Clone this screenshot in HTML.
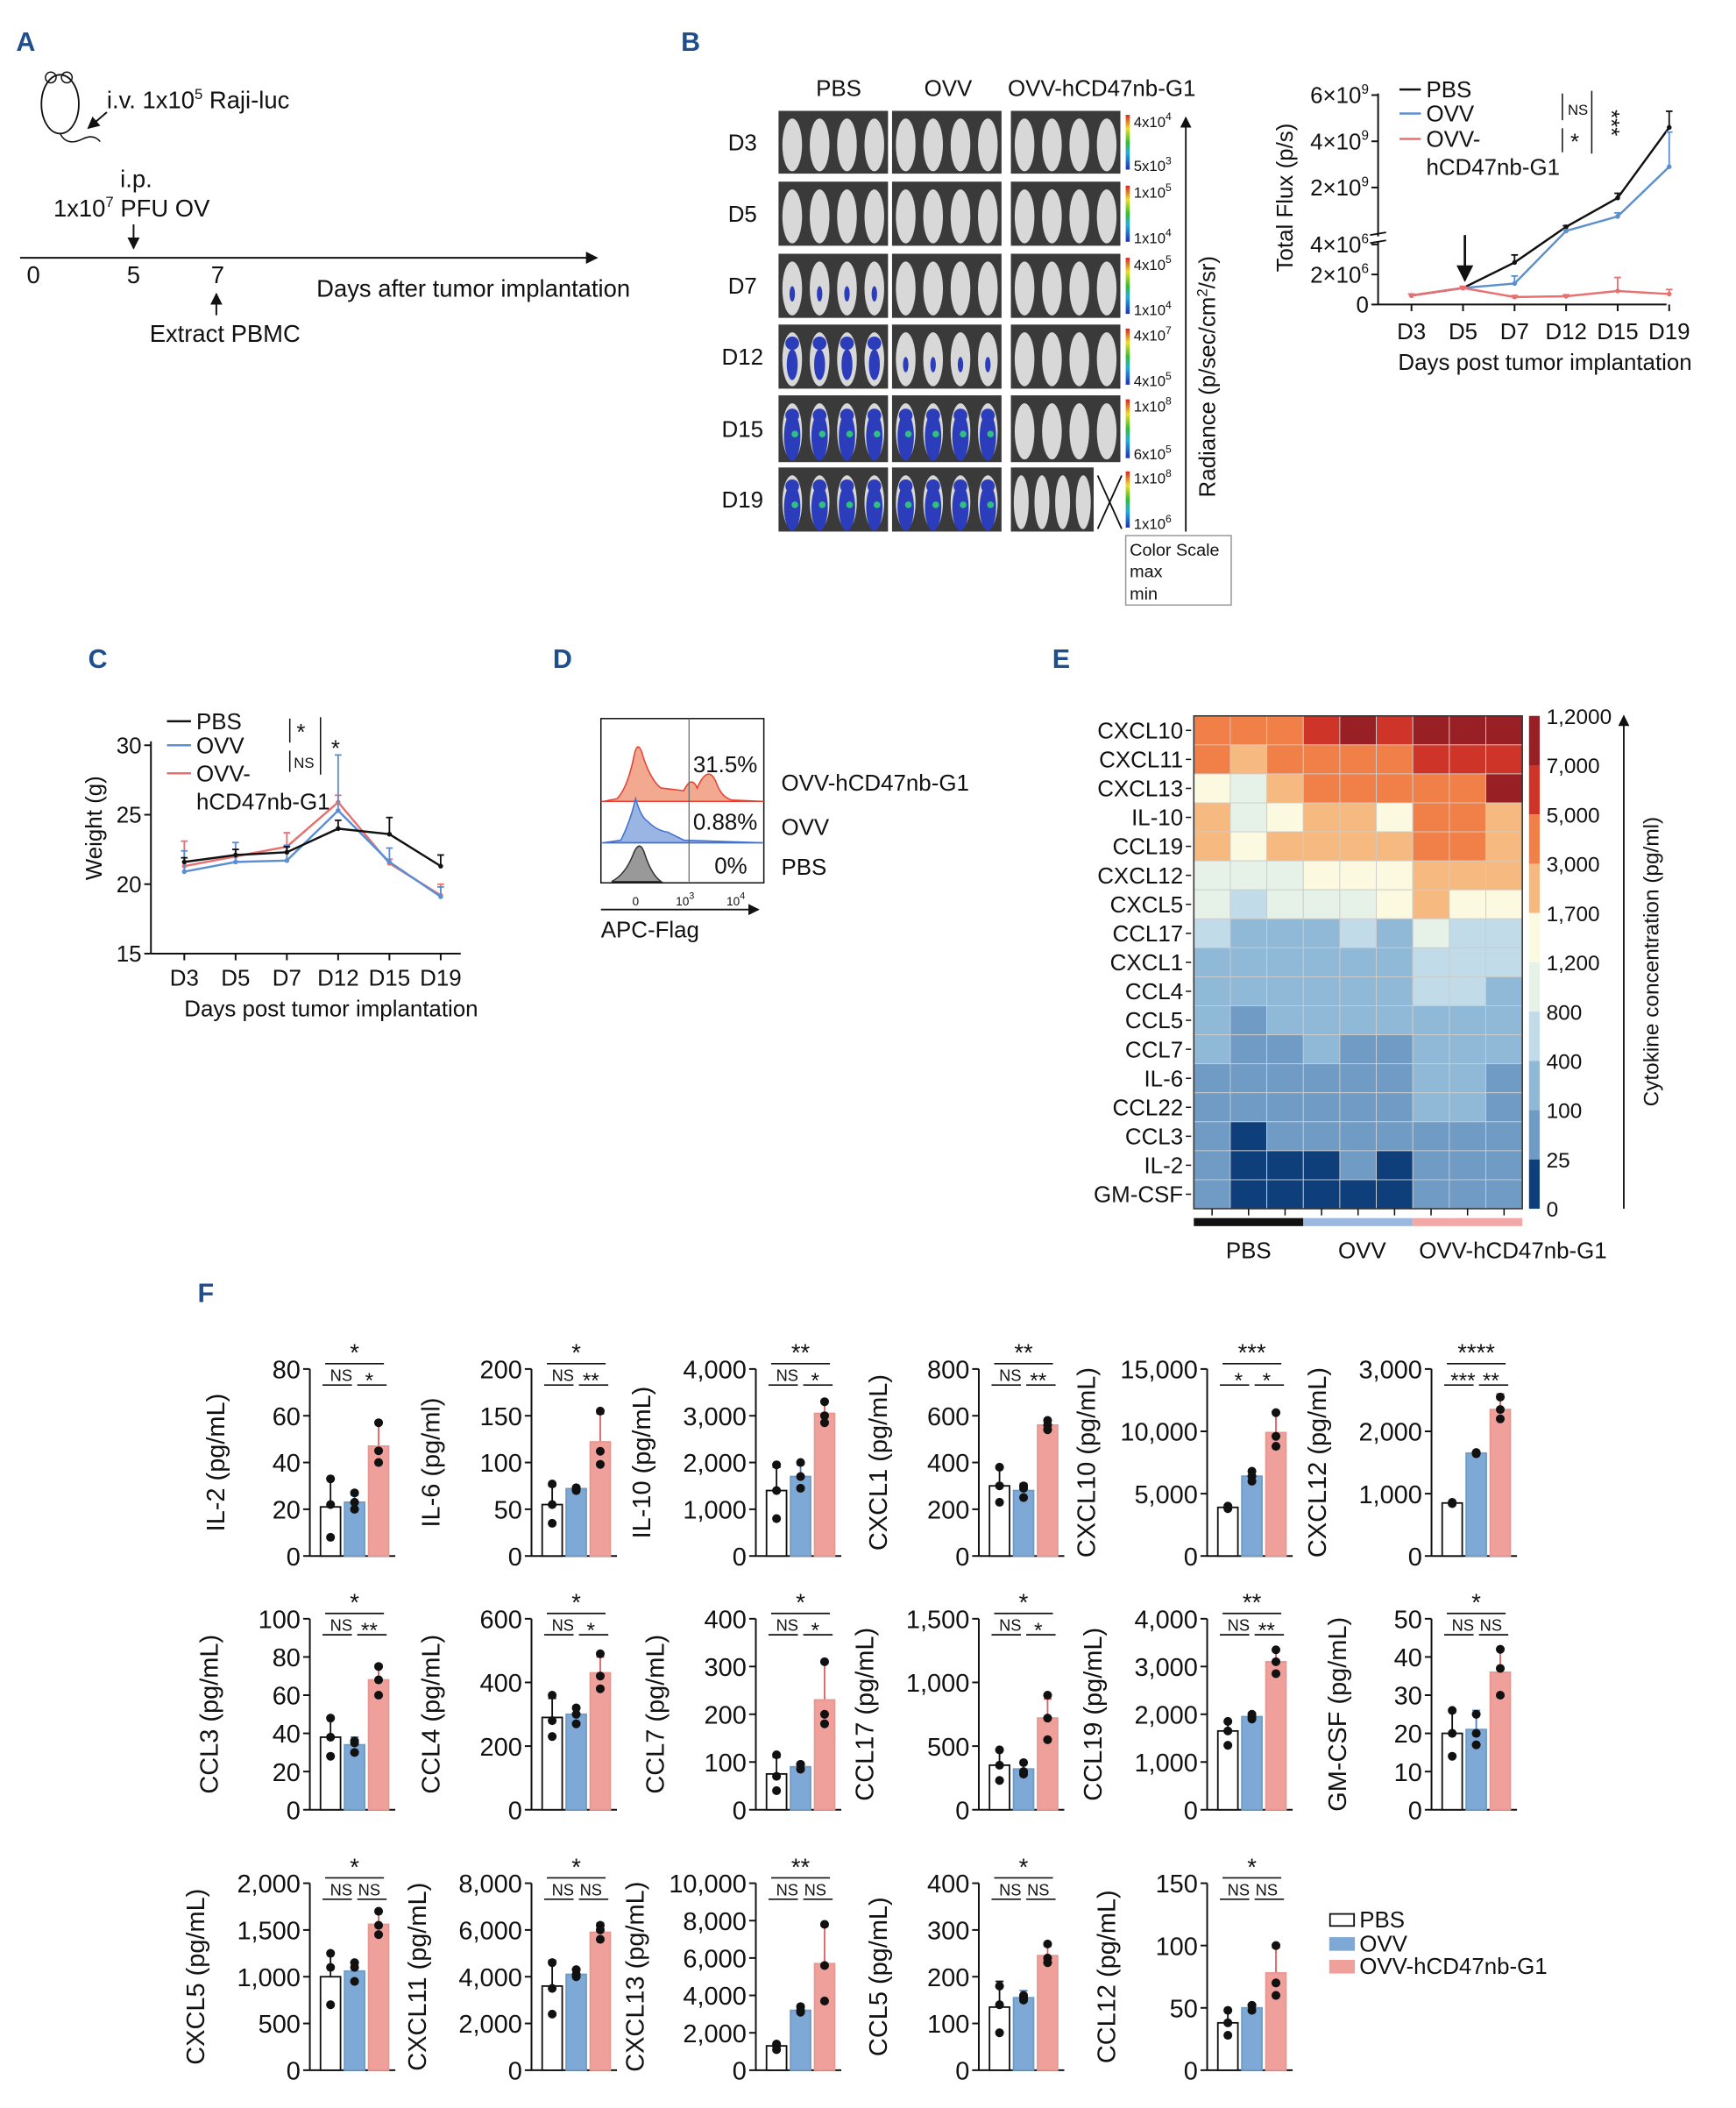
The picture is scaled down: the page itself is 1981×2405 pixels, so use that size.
<!DOCTYPE html>
<html><head><meta charset="utf-8"><style>
html,body{margin:0;padding:0;background:#fff}
svg{display:block}
text{font-family:"Liberation Sans",sans-serif;fill:#111}
</style></head><body>
<svg id="fig" width="1981" height="2405" viewBox="0 0 1300 1578.3" xmlns="http://www.w3.org/2000/svg">
<defs>
<linearGradient id="rainbow" x1="0" y1="1" x2="0" y2="0">
<stop offset="0" stop-color="#2030c0"/><stop offset="0.3" stop-color="#20b0e0"/><stop offset="0.5" stop-color="#30c030"/><stop offset="0.75" stop-color="#f0e020"/><stop offset="1" stop-color="#e02020"/></linearGradient>
<marker id="ah" viewBox="0 0 10 10" refX="9" refY="5" markerWidth="7" markerHeight="7" orient="auto"><path d="M0,0 L10,5 L0,10 z" fill="#111"/></marker>
</defs>
<g id="root"></g>
</svg>
<script>
const NS='http://www.w3.org/2000/svg';
const root=document.getElementById('root');
function mk(tag,attrs,parent){const e=document.createElementNS(NS,tag);for(const k in attrs)e.setAttribute(k,attrs[k]);(parent||root).appendChild(e);return e;}
function txt(x,y,s,size,parent,anchor,extra){const t=mk('text',Object.assign({x:x,y:y,'font-size':size,'text-anchor':anchor||'start'},extra||{}),parent);t.innerHTML=s;return t;}
function line(x1,y1,x2,y2,parent,w,c){return mk('line',{x1:x1,y1:y1,x2:x2,y2:y2,stroke:c||'#111','stroke-width':w||1.3},parent);}

/* ---------- panel labels ---------- */
const panelLabels=[['A',12,38],['B',510,38],['C',66,500],['D',414,500],['E',788,500],['F',148,975]];
panelLabels.forEach(p=>{const t=txt(p[1],p[2],p[0],20,root,'start',{'font-weight':'bold'});t.setAttribute('style','fill:#1f4e8c');

});

/* ---------- Panel A ---------- */
const gA=mk('g',{});


mk('ellipse',{cx:45,cy:78,rx:14,ry:22,fill:'none',stroke:'#111','stroke-width':1.2},gA);
mk('circle',{cx:38,cy:58,r:4,fill:'none',stroke:'#111'},gA);mk('circle',{cx:50,cy:58,r:4,fill:'none',stroke:'#111'},gA);
mk('path',{d:'M45,100 Q50,110 62,104 Q70,100 75,106',fill:'none',stroke:'#111'},gA);
txt(80,81,'i.v. 1x10<tspan dy="-7" font-size="11">5</tspan><tspan dy="7"> Raji-luc</tspan>',18,gA);
line(80,84,66,96,gA,1.3).setAttribute('marker-end','url(#ah)');
txt(90,140,'i.p.',18,gA);
txt(40,162,'1x10<tspan dy="-7" font-size="11">7</tspan><tspan dy="7"> PFU OV</tspan>',18,gA);
line(100,168,100,186,gA,1.3).setAttribute('marker-end','url(#ah)');
line(15,193,447,193,gA,1.3).setAttribute('marker-end','url(#ah)');
txt(25,212,'0',18,gA,'middle');txt(100,212,'5',18,gA,'middle');txt(163,212,'7',18,gA,'middle');
txt(237,222,'Days after tumor implantation',18,gA);
line(162,236,162,220,gA,1.3).setAttribute('marker-end','url(#ah)');
txt(112,256,'Extract PBMC',18,gA);

/* ---------- Panel B imaging ---------- */
const gB=mk('g',{});


const imgCols=[583,668,757];
const imgRows=[[83,130],[136,184],[190,238],[243,291],[296,346],[350,398]];
const dayLabels=['D3','D5','D7','D12','D15','D19'];
const burden=[[0,0,0],[0,0,0],[1,0,0],[2,1,0],[3,3,0],[3,3,0]];
const scaleTop=['4x10<tspan dy="-5" font-size="8">4</tspan>','1x10<tspan dy="-5" font-size="8">5</tspan>','4x10<tspan dy="-5" font-size="8">5</tspan>','4x10<tspan dy="-5" font-size="8">7</tspan>','1x10<tspan dy="-5" font-size="8">8</tspan>','1x10<tspan dy="-5" font-size="8">8</tspan>'];
const scaleBot=['5x10<tspan dy="-5" font-size="8">3</tspan>','1x10<tspan dy="-5" font-size="8">4</tspan>','1x10<tspan dy="-5" font-size="8">4</tspan>','4x10<tspan dy="-5" font-size="8">5</tspan>','6x10<tspan dy="-5" font-size="8">5</tspan>','1x10<tspan dy="-5" font-size="8">6</tspan>'];
txt(628,72,'PBS',17,gB,'middle');txt(710,72,'OVV',17,gB,'middle');txt(825,72,'OVV-hCD47nb-G1',17,gB,'middle');
imgRows.forEach((r,ri)=>{
 txt(556,(r[0]+r[1])/2+6,dayLabels[ri],17,gB,'middle');
 imgCols.forEach((cx,ci)=>{
  const w=(ci==2&&ri==5)?62:82;
  const cell=mk('g',{},gB);
  
  
  mk('rect',{x:cx,y:r[0],width:w,height:r[1]-r[0],fill:'#3a3a3a'},cell);
  const n=4;
  for(let m=0;m<n;m++){
   const mx=cx+w*(m+0.5)/n, my=(r[0]+r[1])/2;
   mk('ellipse',{cx:mx,cy:my+2,rx:w/n*0.36,ry:(r[1]-r[0])*0.42,fill:'#d8d8d8'},cell);
   const b=burden[ri][ci];
   if(b>0){
    mk('ellipse',{cx:mx,cy:my+6,rx:w/n*0.3*(b/3),ry:(r[1]-r[0])*0.12*b,fill:'#2b3dbb'},cell);
    if(b>=2) mk('ellipse',{cx:mx,cy:my-10,rx:w/n*0.25,ry:5,fill:'#2b3dbb'},cell);
    if(b>=3) mk('circle',{cx:mx+2,cy:my+4,r:2.5,fill:'#30c080'},cell);
   }
  }
 });
 mk('rect',{x:843,y:r[0]+3,width:3,height:r[1]-r[0]-6,fill:'url(#rainbow)'},gB);
 txt(849,r[0]+12,scaleTop[ri],11,gB);
 txt(849,r[1]-2,scaleBot[ri],11,gB);
});
line(822,356,840,396,gB,1.2);line(840,356,822,396,gB,1.2);
line(888,398,888,88,gB,1.2).setAttribute('marker-end','url(#ah)');
txt(0,0,'Radiance (p/sec/cm<tspan dy="-6" font-size="11">2</tspan><tspan dy="6">/sr)</tspan>',17,gB,'middle',{transform:'translate(910,282) rotate(-90)'});
mk('rect',{x:843,y:401,width:79,height:52,fill:'none',stroke:'#999','stroke-width':1},gB);
txt(846,416,'Color Scale',13,gB);txt(846,432,'max',13,gB);txt(846,449,'min',13,gB);

/* ---------- Panel B total flux chart ---------- */
const fluxDays=['D3','D5','D7','D12','D15','D19'];
const fluxPBS=[0.6e6,1.1e6,2.8e6,0.3e9,1.55e9,4.6e9];
const fluxOVV=[0.6e6,1.1e6,1.4e6,0.12e9,0.75e9,2.9e9];
const fluxCD47=[0.6e6,1.1e6,0.5e6,0.55e6,0.9e6,0.7e6];
const fluxErrPBS=[0.1e6,0.1e6,0.5e6,0.05e9,0.2e9,0.7e9];
const fluxErrOVV=[0.1e6,0.1e6,0.5e6,0.05e9,0.15e9,1.5e9];
const fluxErrCD47=[0.1e6,0.1e6,0.1e6,0.1e6,0.9e6,0.3e6];
const fluxTicks=[[6e9,'6×10<tspan dy="-7" font-size="10">9</tspan>'],[4e9,'4×10<tspan dy="-7" font-size="10">9</tspan>'],[2e9,'2×10<tspan dy="-7" font-size="10">9</tspan>'],[4e6,'4×10<tspan dy="-7" font-size="10">6</tspan>'],[2e6,'2×10<tspan dy="-7" font-size="10">6</tspan>'],[0,'0']];
const gF=mk('g',{});


function fx(i){return 1057+i*38.6;}
function fy(v){return v<=4e6?228-45*v/4e6:175-17.3*v/1e9;}
line(1032,70,1032,177,gF);line(1032,181,1032,228,gF);
line(1026,176,1038,174,gF,1.2);line(1026,182,1038,180,gF,1.2);
line(1032,228,1248,228,gF);
fluxTicks.forEach(t=>{const y=fy(t[0]);line(1027,y,1032,y,gF);txt(1025,y+6,t[1],17,gF,'end');});
fluxDays.forEach((d,i)=>{line(fx(i),228,fx(i),233,gF);txt(fx(i),254,d,17,gF,'middle');});
txt(1157,277,'Days post tumor implantation',17,gF,'middle');
txt(0,0,'Total Flux (p/s)',17,gF,'middle',{transform:'translate(968,148) rotate(-90)'});
function series(vals,errs,col,name,g){
 const s=mk('g',{},g);
 
 
 mk('polyline',{points:vals.map((v,i)=>fx(i)+','+fy(v)).join(' '),fill:'none',stroke:col,'stroke-width':1.6},s);
 vals.forEach((v,i)=>{const y1=fy(v),y2=fy(v+errs[i]);line(fx(i),y1,fx(i),y2,s,1.2,col);line(fx(i)-2.5,y2,fx(i)+2.5,y2,s,1.2,col);mk('circle',{cx:fx(i),cy:y1,r:1.8,fill:col},s);});
}
series(fluxPBS,fluxErrPBS,'#111','flux-series-pbs',gF);
series(fluxOVV,fluxErrOVV,'#5b8fd0','flux-series-ovv',gF);
series(fluxCD47,fluxErrCD47,'#e87070','flux-series-ovv-hcd47nb-g1',gF);
line(1097,176,1097,210,gF,1.8).setAttribute('marker-end','url(#ah)');
const legB=[['#111','PBS',72],['#5b8fd0','OVV',90],['#e87070','OVV-',109]];
legB.forEach(l=>{line(1048,l[2]-5,1064,l[2]-5,gF,1.6,l[0]);txt(1068,l[2]+1,l[1],17,gF);});
txt(1068,131,'hCD47nb-G1',17,gF);
line(1170,70,1170,90,gF,1);txt(1174,86,'NS',11,gF);
line(1170,96,1170,114,gF,1);txt(1176,112,'*',17,gF);
line(1192,68,1192,115,gF,1);txt(0,0,'***',17,gF,'middle',{transform:'translate(1201,92) rotate(90)'});

/* ---------- Panel C weight ---------- */
const wDays=['D3','D5','D7','D12','D15','D19'];
const wPBS=[21.6,22.1,22.3,24.0,23.6,21.3];
const wOVV=[20.9,21.6,21.7,25.3,21.6,19.1];
const wCD47=[21.3,22.0,22.7,25.9,21.5,19.2];
const wErrPBS=[0.3,0.4,0.4,0.6,1.2,0.8];
const wErrOVV=[1.5,1.4,1.1,4.0,1.0,0.7];
const wErrCD47=[1.8,0.5,1.0,0.5,0.3,0.8];
const wTicks=[15,20,25,30];
const gC=mk('g',{});


function cx_(i){return 138+i*38.4;}
function cy_(v){return 714-(v-15)*10.4;}
line(113,555,113,714,gC);line(113,714,345,714,gC);
wTicks.forEach(t=>{line(108,cy_(t),113,cy_(t),gC);txt(106,cy_(t)+6,String(t),17,gC,'end');});
wDays.forEach((d,i)=>{line(cx_(i),714,cx_(i),719,gC);txt(cx_(i),738,d,17,gC,'middle');});
txt(248,761,'Days post tumor implantation',17,gC,'middle');
txt(0,0,'Weight (g)',17,gC,'middle',{transform:'translate(76,620) rotate(-90)'});
function wseries(vals,errs,col,name){
 const s=mk('g',{},gC);
 
 
 mk('polyline',{points:vals.map((v,i)=>cx_(i)+','+cy_(v)).join(' '),fill:'none',stroke:col,'stroke-width':1.6},s);
 vals.forEach((v,i)=>{const y2=cy_(v+errs[i]);line(cx_(i),cy_(v),cx_(i),y2,s,1.2,col);line(cx_(i)-2.5,y2,cx_(i)+2.5,y2,s,1.2,col);mk('circle',{cx:cx_(i),cy:cy_(v),r:1.8,fill:col},s);});
}
wseries(wCD47,wErrCD47,'#e87070','weight-series-ovv-hcd47nb-g1');
wseries(wOVV,wErrOVV,'#5b8fd0','weight-series-ovv');
wseries(wPBS,wErrPBS,'#111','weight-series-pbs');
const legC=[['#111','PBS',545],['#5b8fd0','OVV',563],['#e87070','OVV-',584]];
legC.forEach(l=>{line(125,l[2]-5,143,l[2]-5,gC,1.6,l[0]);txt(147,l[2]+1,l[1],17,gC);});
txt(147,606,'hCD47nb-G1',17,gC);
line(217,538,217,556,gC,1);txt(222,554,'*',17,gC);
line(217,562,217,578,gC,1);txt(220,575,'NS',11,gC);
line(240,537,240,580,gC,1);txt(248,566,'*',17,gC);

/* ---------- Panel D flow ---------- */
const gD=mk('g',{});


mk('rect',{x:450,y:538,width:122,height:123,fill:'none',stroke:'#111','stroke-width':1},gD);
mk('path',{d:'M452,600 L462,598 Q470,590 475,565 Q478,552 482,568 Q488,585 495,590 L512,592 Q518,580 522,590 Q530,572 536,585 Q540,597 548,599 L571,600 Z',fill:'#f3a890',stroke:'#e84030','stroke-width':1},gD);
line(450,600,572,600,gD,1,'#e84030');
mk('path',{d:'M452,631 L465,629 Q472,615 476,598 Q480,612 485,615 Q492,622 500,623 Q506,626 512,629 L571,631 Z',fill:'#9ab4e4',stroke:'#4070d0','stroke-width':1},gD);
line(450,631,572,631,gD,1,'#4070d0');
mk('path',{d:'M458,660 Q468,655 474,640 Q479,627 483,640 Q488,655 495,660 Z',fill:'#999',stroke:'#333','stroke-width':1},gD);
line(516,538,516,660,gD,0.8,'#666');
txt(519,578,'31.5%',17,gD);txt(519,621,'0.88%',17,gD);txt(535,654,'0%',17,gD);
txt(585,592,'OVV-hCD47nb-G1',17,gD);txt(585,625,'OVV',17,gD);txt(585,655,'PBS',17,gD);
line(450,681,568,681,gD,1.2).setAttribute('marker-end','url(#ah)');
txt(476,678,'0',9,gD,'middle');txt(513,678,'10<tspan dy="-5" font-size="7">3</tspan>',9,gD,'middle');txt(551,678,'10<tspan dy="-5" font-size="7">4</tspan>',9,gD,'middle');
txt(450,702,'APC-Flag',17,gD);

/* ---------- Panel E heatmap ---------- */
const hmRows=['CXCL10','CXCL11','CXCL13','IL-10','CCL19','CXCL12','CXCL5','CCL17','CXCL1','CCL4','CCL5','CCL7','IL-6','CCL22','CCL3','IL-2','GM-CSF'];
const hmLevels=[
[7,7,7,8,9,8,9,9,9],[7,6,7,7,7,7,8,8,8],[5,4,6,7,7,7,7,7,9],[6,4,5,6,6,5,7,7,6],[6,5,6,6,6,6,7,7,6],
[4,4,4,5,5,5,6,6,6],[4,3,4,4,4,5,6,5,5],[3,2,2,2,3,2,4,3,3],[2,2,2,2,2,2,3,3,3],[2,2,2,2,2,2,3,3,2],
[2,1,2,2,2,2,2,2,2],[2,1,1,2,1,1,2,2,2],[1,1,1,1,1,1,2,2,1],[1,1,1,1,1,1,2,2,1],[1,0,1,1,1,1,1,1,1],
[1,0,0,0,1,0,1,1,1],[1,0,0,0,0,0,1,1,1]];
const hmColors=['#0e3f7b','#6f9bc5','#8fb9d6','#c2dbe8','#e6f1e7','#fbfae0','#f6b980','#f07f48','#cf3428','#981f24'];
const cbLabels=['1,2000','7,000','5,000','3,000','1,700','1,200','800','400','100','25','0'];
const gE=mk('g',{});


const hx0=894,hx1=1140,hy0=536,hy1=905;
const cw=(hx1-hx0)/9,rh=(hy1-hy0)/hmRows.length;
hmLevels.forEach((row,ri)=>{
 row.forEach((lv,ci)=>{const c=mk('rect',{x:hx0+ci*cw,y:hy0+ri*rh,width:cw,height:rh,fill:hmColors[lv],stroke:'#ccc','stroke-width':0.6},gE);
 
 });
 line(hx0-6,hy0+(ri+0.5)*rh,hx0-2,hy0+(ri+0.5)*rh,gE,1);
 txt(hx0-8,hy0+(ri+0.5)*rh+6,hmRows[ri],17,gE,'end');
});
mk('rect',{x:hx0,y:hy0,width:hx1-hx0,height:hy1-hy0,fill:'none',stroke:'#333','stroke-width':1},gE);
for(let i=0;i<9;i++)line(hx0+(i+0.5)*cw,hy1,hx0+(i+0.5)*cw,hy1+5,gE,1);
mk('rect',{x:hx0,y:912,width:cw*3,height:6,fill:'#111'},gE);
mk('rect',{x:hx0+cw*3,y:912,width:cw*3,height:6,fill:'#9ab8e0'},gE);
mk('rect',{x:hx0+cw*6,y:912,width:cw*3,height:6,fill:'#f3a8a8'},gE);
txt(935,942,'PBS',17,gE,'middle');txt(1020,942,'OVV',17,gE,'middle');txt(1133,942,'OVV-hCD47nb-G1',17,gE,'middle');
const segH=(hy1-hy0)/10;
for(let i=0;i<10;i++){mk('rect',{x:1145,y:hy0+i*segH,width:8,height:segH,fill:hmColors[9-i]},gE);}
cbLabels.forEach((l,i)=>txt(1158,hy0+i*segH+6,l,16,gE));
line(1216,hy1,1216,hy0,gE,1.2).setAttribute('marker-end','url(#ah)');
txt(0,0,'Cytokine concentration (pg/ml)',16,gE,'middle',{transform:'translate(1242,720) rotate(-90)'});

/* ---------- Panel F bar charts ---------- */
const fNames=['IL-2','IL-6','IL-10','CXCL1','CXCL10','CXCL12','CCL3','CCL4','CCL7','CCL17','CCL19','GM-CSF','CXCL5','CXCL11','CXCL13','CCL5','CCL12'];
const fUnits=['pg/mL','pg/ml','pg/mL','pg/mL','pg/mL','pg/mL','pg/mL','pg/mL','pg/mL','pg/mL','pg/mL','pg/mL','pg/mL','pg/mL','pg/mL','pg/mL','pg/mL'];
const fMax=[80,200,4000,800,15000,3000,100,600,400,1500,4000,50,2000,8000,10000,400,150];
const fStep=[20,50,1000,200,5000,1000,20,200,100,500,1000,10,500,2000,2000,100,50];
const fMeanPBS=[21,55,1400,300,3900,850,38,290,75,350,1650,20,1000,3600,1300,135,38];
const fMeanOVV=[23,72,1700,280,6400,1650,34,300,90,320,1950,21,1060,4100,3200,155,50];
const fMeanCD47=[47,122,3050,560,9900,2350,68,430,230,720,3100,36,1560,5900,5700,245,78];
const fSdPBS=[12,20,500,80,150,20,10,60,35,120,200,6,250,1100,150,55,10];
const fSdOVV=[3,2,250,30,400,20,4,25,8,40,60,5,100,250,150,15,3];
const fSdCD47=[10,30,250,20,1500,250,8,50,80,150,250,6,150,400,2000,20,20];
const fPtsPBS=[[33,22,8],[77,55,35],[1950,1400,800],[380,300,230],[4000,3900,3800],[850,840,860],[48,38,28],[360,280,230],[115,70,40],[470,350,230],[1850,1650,1350],[26,20,14],[1250,1100,700],[4600,3500,2400],[1400,1300,1100],[180,140,80],[48,38,28]];
const fPtsOVV=[[27,23,20],[70,72,73],[2000,1700,1450],[300,290,250],[6800,6400,6000],[1650,1640,1660],[36,35,30],[320,300,270],[95,95,85],[370,300,280],[2000,1950,1900],[25,20,17],[1150,1100,950],[4300,4100,4000],[3400,3200,3100],[160,155,150],[52,52,48]];
const fPtsCD47=[[57,45,40],[155,112,98],[3300,3000,2850],[580,560,540],[11500,9600,8800],[2550,2350,2200],[75,68,60],[490,420,380],[310,200,180],[900,720,550],[3350,3100,2850],[42,37,30],[1700,1550,1450],[6200,6000,5600],[7800,5600,3700],[270,240,230],[100,70,60]];
const fSigTop=['*','*','**','**','***','****','*','*','*','*','**','*','*','*','**','*','*'];
const fSigLeft=['NS','NS','NS','NS','*','***','NS','NS','NS','NS','NS','NS','NS','NS','NS','NS','NS'];
const fSigRight=['*','**','*','**','*','**','**','*','*','*','**','NS','NS','NS','NS','NS','NS'];
const rowTop=[1025,1212,1410], rowBot=[1165,1355,1550];
const colAxis=[232,398,566,733,904,1072];
function fmt(v){return v>=1000?v.toLocaleString('en-US'):String(v);}
fNames.forEach((nm,k)=>{
 const r=Math.floor(k/6),c=k%6;
 const ax=colAxis[c],yT=rowTop[r],yB=rowBot[r];
 const g=mk('g',{});
 
 
 const ys=v=>yB-v/fMax[k]*(yB-yT);
 line(ax,yT,ax,yB,g,1.3);line(ax,yB,ax+64,yB,g,1.3);
 let maxLen=0;
 for(let v=0;v<=fMax[k];v+=fStep[k]){const s=fmt(v);maxLen=Math.max(maxLen,s.length);line(ax-5,ys(v),ax,ys(v),g,1.3);txt(ax-7,ys(v)+7,s,19,g,'end');}
 txt(0,0,nm+' ('+fUnits[k]+')',19,g,'middle',{transform:'translate('+(ax-54-5*maxLen)+','+((yT+yB)/2)+') rotate(-90)'});
 const means=[fMeanPBS[k],fMeanOVV[k],fMeanCD47[k]];
 const sds=[fSdPBS[k],fSdOVV[k],fSdCD47[k]];
 const pts=[fPtsPBS[k],fPtsOVV[k],fPtsCD47[k]];
 const fills=['#fff','#7ea9d6','#f0a09a'];const strokes=['#111','#6f9bc5','#e89890'];const errc=['#111','#4a80c0','#e06060'];
 const grp=['pbs','ovv','ovv-hcd47nb-g1'];
 for(let b=0;b<3;b++){
  const bx=ax+8+b*18,bw=15,cxb=bx+bw/2;
  const y2=ys(means[b]+sds[b]);
  line(cxb,ys(means[b]),cxb,y2,g,1.2,errc[b]);line(cxb-3,y2,cxb+3,y2,g,1.2,errc[b]);
  const bar=mk('rect',{x:bx,y:ys(means[b]),width:bw,height:yB-ys(means[b]),fill:fills[b],stroke:strokes[b],'stroke-width':1.2},g);
  
  
  pts[b].forEach(p=>mk('circle',{cx:cxb,cy:ys(p),r:3.3,fill:'#111'},g));
 }
 const c1=ax+15.5,c2=ax+33.5,c3=ax+51.5;
 line(c1-4,yT-4,c3+4,yT-4,g,1.1);txt((c1+c3)/2,yT-6,fSigTop[k],18,g,'middle');
 line(c1-6,yT+12,c2-2,yT+12,g,1.1);line(c2+2,yT+12,c3+6,yT+12,g,1.1);
 txt((c1+c2)/2-1,yT+9,fSigLeft[k],fSigLeft[k]=='NS'?12:16,g,'middle',fSigLeft[k]=='NS'?{}:{dy:5});
 txt((c2+c3)/2+2,yT+9,fSigRight[k],fSigRight[k]=='NS'?12:16,g,'middle',fSigRight[k]=='NS'?{}:{dy:5});
});
const gL=mk('g',{});


[['#fff','#111','PBS',1442],['#7ea9d6','#7ea9d6','OVV',1460],['#f0a09a','#f0a09a','OVV-hCD47nb-G1',1477]].forEach(l=>{
 mk('rect',{x:996,y:l[3]-9,width:18,height:9,fill:l[0],stroke:l[1],'stroke-width':1.2},gL);
 txt(1018,l[3]+1,l[2],17,gL);
});
</script>
</body></html>
